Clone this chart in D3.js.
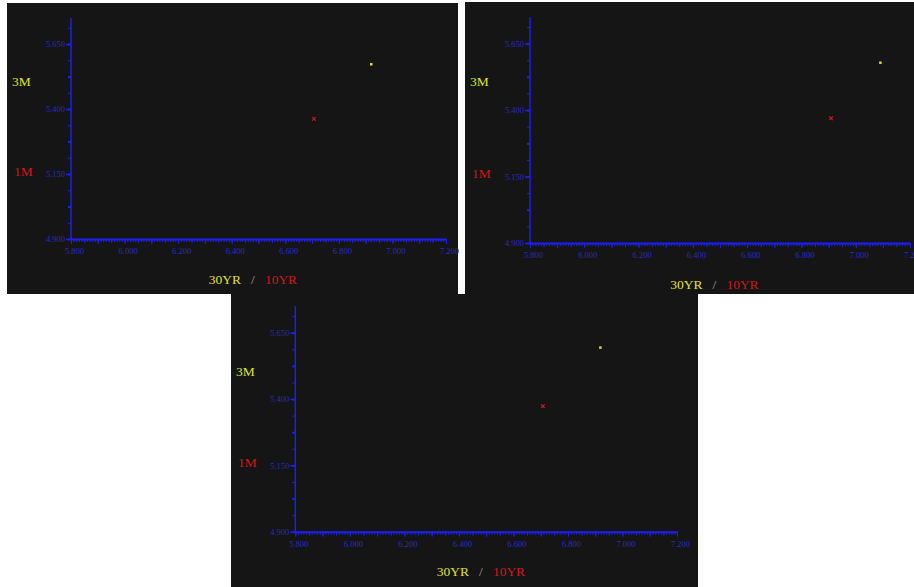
<!DOCTYPE html>
<html>
<head>
<meta charset="utf-8">
<script src="https://cdn.jsdelivr.net/npm/d3@7"></script>
<style>
  body { margin: 0; background: #ffffff; }
  svg { display: block; }
</style>
</head>
<body>
<div id="chart"></div>
<script>
// values, one entry per panel
var x30yr = [6.920, 7.090, 6.918];   // yellow points, x value
var y3m   = [5.573, 5.579, 5.595];   // yellow points, y value
var x10yr = [6.707, 6.909, 6.708];   // red points, x value
var y1m   = [5.362, 5.369, 5.373];   // red points, y value

var xTickLabels = [5.8, 6.0, 6.2, 6.4, 6.6, 6.8, 7.0, 7.2];
var yTickLabels = [4.9, 5.15, 5.4, 5.65];
var xDomain = [5.8, 7.2];
var yDomain = [4.9, 5.75];

// panel frames (layout only)
var panels = [
  {left: 7,   top: 3,   w: 451, h: 291, ax: 64,   xEnd: 439, yBot: 236,   yTop: 15,   lab3: 80,   lab1: 170, labB: 278, cx: 246},
  {left: 465, top: 2,   w: 449, h: 292, ax: 65,   xEnd: 445, yBot: 241,   yTop: 15,   lab3: 81,   lab1: 173, labB: 284, cx: 249.5},
  {left: 231, top: 294, w: 467, h: 293, ax: 64.3, xEnd: 446, yBot: 237.7, yTop: 12.2, lab3: 78.7, lab1: 170, labB: 279, cx: 250}
];

var axisBlue = "#1e1ef0";
var labelBlue = "#2a2ac4";
var yellow = "#e2e21c";
var red = "#d01818";

var svg = d3.select("#chart").append("svg")
    .attr("width", 914)
    .attr("height", 587);

panels.forEach(function(p, i) {
  var g = svg.append("g")
      .attr("transform", "translate(" + p.left + "," + p.top + ")");

  g.append("rect")
      .attr("width", p.w)
      .attr("height", p.h)
      .attr("fill", "#151515");

  var x = d3.scaleLinear().domain(xDomain).range([p.ax, p.xEnd]);
  var y = d3.scaleLinear().domain(yDomain).range([p.yBot, p.yTop]);

  // x axis: minor 0.01, medium 0.05, major 0.1, labels every 0.2
  var xMinor = d3.range(0, 141).map(function(k) { return 5.8 + k * 0.01; });
  var xMid = d3.range(0, 29).map(function(k) { return 5.8 + k * 0.05; });
  var xMajor = d3.range(0, 15).map(function(k) { return 5.8 + k * 0.1; });

  function xAxisLayer(vals, size) {
    var a = g.append("g")
        .attr("transform", "translate(0," + p.yBot + ")")
        .call(d3.axisBottom(x).tickValues(vals).tickSize(size).tickSizeOuter(0).tickFormat(""));
    a.select(".domain").remove();
    a.selectAll("line").attr("stroke", axisBlue);
    return a;
  }
  xAxisLayer(xMinor, 3);
  xAxisLayer(xMid, 4);
  xAxisLayer(xMajor, 5);

  var xLab = g.append("g")
      .attr("transform", "translate(0," + p.yBot + ")")
      .call(d3.axisBottom(x).tickValues(xTickLabels).tickSize(0).tickSizeOuter(0).tickFormat(d3.format(".3f")));
  xLab.select(".domain").remove();
  xLab.selectAll("text")
      .attr("dx", 3)
      .attr("y", 9)
      .style("font-family", "'Liberation Serif', serif")
      .style("font-size", "8.5px")
      .attr("fill", labelBlue);

  // y axis: minor every 0.0625, medium 0.125, labelled every 0.25
  var yMinor = d3.range(0, 14).map(function(k) { return 4.9 + k * 0.0625; });
  var yMid = d3.range(0, 7).map(function(k) { return 4.9 + k * 0.125; });

  function yAxisLayer(vals, size, width) {
    var a = g.append("g")
        .attr("transform", "translate(" + p.ax + ",0)")
        .call(d3.axisLeft(y).tickValues(vals).tickSize(size).tickSizeOuter(0).tickFormat(""));
    a.select(".domain").remove();
    a.selectAll("line").attr("stroke", axisBlue).attr("stroke-width", width);
    return a;
  }
  yAxisLayer(yMinor, 3, 1);
  yAxisLayer(yMid, 3, 2);

  var yLab = g.append("g")
      .attr("transform", "translate(" + p.ax + ",0)")
      .call(d3.axisLeft(y).tickValues(yTickLabels).tickSize(5).tickSizeOuter(0).tickFormat(d3.format(".3f")));
  yLab.select(".domain").remove();
  yLab.selectAll("line").attr("stroke", axisBlue).attr("stroke-width", 1.5);
  yLab.selectAll("text")
      .attr("x", -6)
      .style("font-family", "'Liberation Serif', serif")
      .style("font-size", "8.5px")
      .attr("fill", labelBlue);

  // axis lines
  g.append("line")
      .attr("x1", p.ax).attr("x2", p.ax)
      .attr("y1", y(yDomain[1])).attr("y2", p.yBot + 1)
      .attr("stroke", axisBlue).attr("stroke-width", 1.5);
  g.append("line")
      .attr("x1", p.ax).attr("x2", x(xDomain[1]))
      .attr("y1", p.yBot + 0.5).attr("y2", p.yBot + 0.5)
      .attr("stroke", axisBlue).attr("stroke-width", 2);

  // points
  g.append("rect")
      .attr("x", x(x30yr[i]) - 1)
      .attr("y", y(y3m[i]) - 1)
      .attr("width", 2.5)
      .attr("height", 2.5)
      .attr("fill", yellow);

  g.append("path")
      .attr("d", d3.symbol(d3.symbolX, 10)())
      .attr("transform", "translate(" + x(x10yr[i]) + "," + y(y1m[i]) + ")")
      .attr("stroke", red)
      .attr("stroke-width", 1.2)
      .attr("fill", "none");

  // side labels
  g.append("text")
      .attr("x", 5)
      .attr("y", p.lab3)
      .attr("dominant-baseline", "middle")
      .text("3M")
      .style("font-family", "'Liberation Serif', serif")
      .style("font-size", "13.5px")
      .attr("fill", yellow);

  g.append("text")
      .attr("x", 7)
      .attr("y", p.lab1)
      .attr("dominant-baseline", "middle")
      .text("1M")
      .style("font-family", "'Liberation Serif', serif")
      .style("font-size", "13.5px")
      .attr("fill", red);

  var bottom = g.append("text")
      .attr("x", p.cx)
      .attr("y", p.labB)
      .attr("text-anchor", "middle")
      .attr("dominant-baseline", "middle")
      .style("font-family", "'Liberation Serif', serif")
      .style("font-size", "13.5px");
  bottom.append("tspan").attr("fill", yellow).text("30YR");
  bottom.append("tspan").attr("fill", "#a0a0a0").attr("dx", 10).text("/");
  bottom.append("tspan").attr("fill", red).attr("dx", 10).text("10YR");
});
</script>
</body>
</html>
